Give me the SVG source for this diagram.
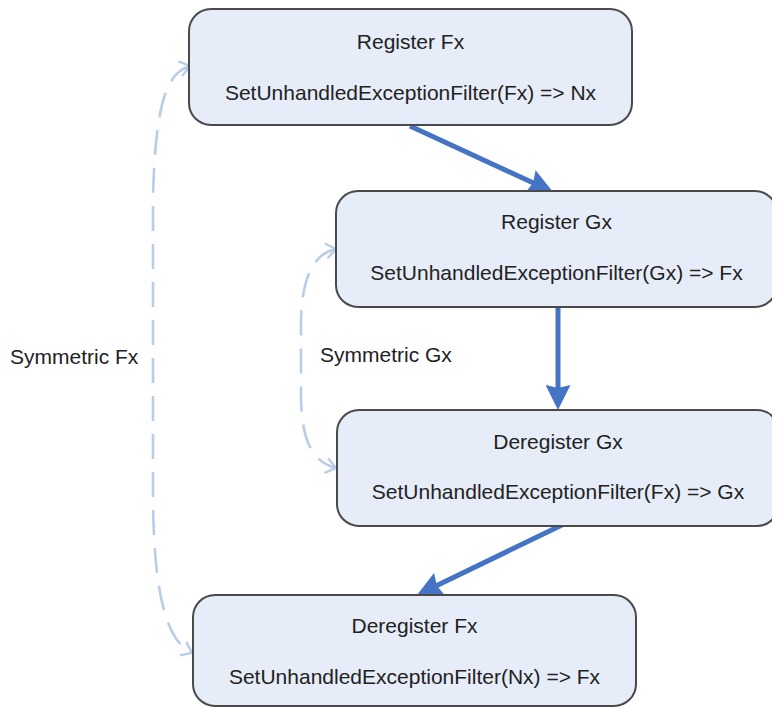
<svg xmlns="http://www.w3.org/2000/svg" width="772" height="708" viewBox="0 0 772 708">
<defs>
<style>
.node rect{fill:#E6EDF8;stroke:#4A4A4A;stroke-width:2}
text{font-family:"Liberation Sans",Arial,sans-serif;font-size:21px;fill:#222}
.node text{text-anchor:middle}
.flow{stroke:#4674C4;stroke-width:5;fill:none;marker-end:url(#solid)}
.sym{stroke:#B9CCE8;stroke-width:2.6;fill:none;stroke-dasharray:25 13;marker-start:url(#open);marker-end:url(#open)}
</style>
<marker id="solid" markerUnits="userSpaceOnUse" markerWidth="25" markerHeight="25" refX="19" refY="12.5" orient="auto">
<path d="M0,0 L25,12.5 L0,25 L3,12.5 z" fill="#4674C4"/>
</marker>
<marker id="open" markerUnits="userSpaceOnUse" markerWidth="14" markerHeight="18" refX="11" refY="9" orient="auto-start-reverse">
<path d="M1,1.5 L11,9 L1,16.5" fill="none" stroke="#B9CCE8" stroke-width="2.4"/>
</marker>
</defs>
<g id="connectors">
<path class="flow" d="M410,126 L547.6,189.5"/>
<path class="flow" d="M558,307 L558,404"/>
<path class="flow" d="M562,525 L422.4,592.4"/>
<path class="sym" d="M190,66 C168,72 155,100 153,200 L153,500 C154,590 165,640 192,653"/>
<path class="sym" d="M336,249 C315,253 302,275 301,320 L301,400 C302,440 312,462 336,468"/>
</g>
<g id="node-register-fx" class="node">
<rect x="189" y="9" width="443" height="116" rx="22"/>
<text x="410.5" y="48.5">Register Fx</text>
<text x="410.5" y="99.5">SetUnhandledExceptionFilter(Fx) =&gt; Nx</text>
</g>
<g id="node-register-gx" class="node">
<rect x="336" y="191" width="441" height="116" rx="22"/>
<text x="556.5" y="229">Register Gx</text>
<text x="556.5" y="280">SetUnhandledExceptionFilter(Gx) =&gt; Fx</text>
</g>
<g id="node-deregister-gx" class="node">
<rect x="337" y="410" width="442" height="116" rx="22"/>
<text x="558" y="449">Deregister Gx</text>
<text x="558" y="499">SetUnhandledExceptionFilter(Fx) =&gt; Gx</text>
</g>
<g id="node-deregister-fx" class="node">
<rect x="193" y="595" width="443" height="111" rx="22"/>
<text x="414.5" y="633">Deregister Fx</text>
<text x="414.5" y="684">SetUnhandledExceptionFilter(Nx) =&gt; Fx</text>
</g>
<g id="labels">
<text x="10" y="364">Symmetric Fx</text>
<text x="320" y="362">Symmetric Gx</text>
</g>
</svg>
